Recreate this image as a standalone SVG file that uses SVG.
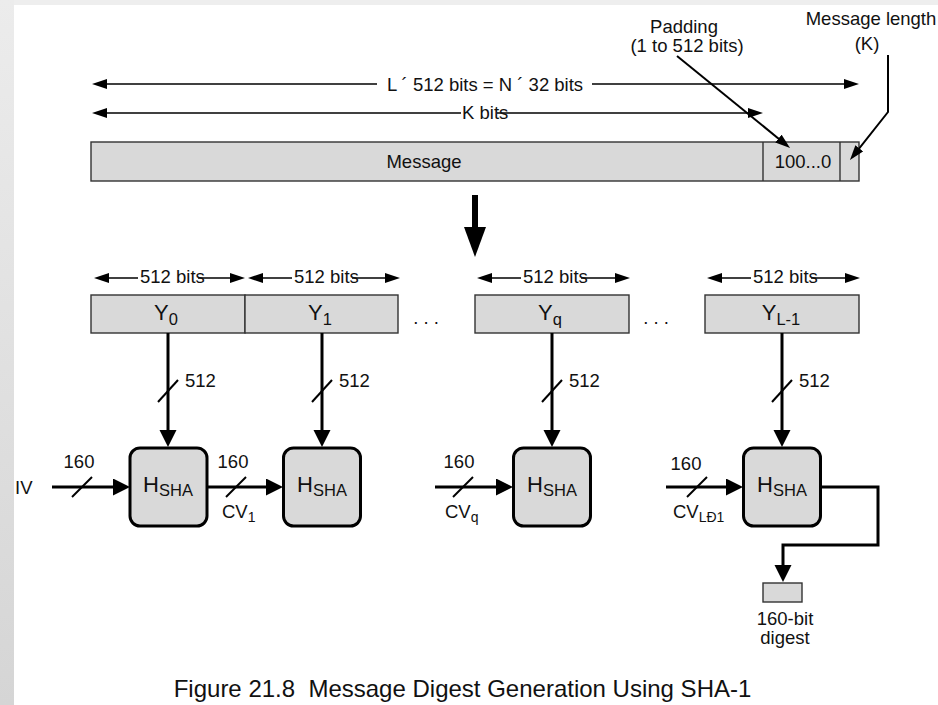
<svg xmlns="http://www.w3.org/2000/svg" width="938" height="705" viewBox="0 0 938 705">
  <style>
    text { font-family: "Liberation Sans", Arial, sans-serif; fill: #111; }
    .lbl { font-size: 18.5px; }
    .mid { text-anchor: middle; }
    .big { font-size: 22px; }
    .sub { font-size: 16.5px; }
    .cap { font-size: 24px; }
    .box { fill: #d9d9d9; stroke: #333; stroke-width: 1.4; }
    .hbox { fill: #d9d9d9; stroke: #000; stroke-width: 3; }
    .dim { fill: none; stroke: #000; stroke-width: 1.4; }
    .ptr { fill: none; stroke: #000; stroke-width: 2; }
    .flow { fill: none; stroke: #000; stroke-width: 3; }
    .tick { fill: none; stroke: #000; stroke-width: 2; }
  </style>
  <defs>
    <linearGradient id="edge" x1="0" y1="0" x2="0" y2="1">
      <stop offset="0" stop-color="#ececec"/>
      <stop offset="1" stop-color="#d5d5d5"/>
    </linearGradient>
    <marker id="thin" markerUnits="userSpaceOnUse" markerWidth="16" markerHeight="10" refX="9" refY="5" orient="auto-start-reverse">
      <path d="M0,0 L15,5 L0,10 z" fill="#000"/>
    </marker>
    <marker id="thick" markerUnits="userSpaceOnUse" markerWidth="18" markerHeight="18" refX="7" refY="8.5" orient="auto">
      <path d="M0,0 L17,8.5 L0,17 z" fill="#000"/>
    </marker>
  </defs>

  <!-- page background with grey frame on the left and top -->
  <rect x="0" y="0" width="938" height="705" fill="#ffffff"/>
  <rect x="0" y="0" width="938" height="5" fill="#eeeeee"/>
  <rect x="0" y="0" width="14" height="705" fill="url(#edge)"/>

  <!-- message layout -->
  <g id="message">
    <rect class="box" x="91" y="142" width="768" height="39"/>
    <line x1="763" y1="142" x2="763" y2="181" stroke="#333" stroke-width="1.4"/>
    <line x1="840" y1="142" x2="840" y2="181" stroke="#333" stroke-width="1.4"/>
    <text class="lbl mid" x="424" y="168">Message</text>
    <text class="lbl mid" x="803" y="168">100...0</text>
  </g>

  <g id="padding-label">
    <text class="lbl mid" x="684" y="33">Padding</text>
    <text class="lbl mid" x="687" y="52">(1 to 512 bits)</text>
  </g>
  <g id="length-label">
    <text class="lbl mid" x="871" y="25">Message length</text>
    <text class="lbl mid" x="867" y="50">(K)</text>
  </g>

  <g id="dimensions">
    <line class="dim" x1="98" y1="84" x2="377" y2="84" marker-start="url(#thin)"/>
    <line class="dim" x1="592" y1="84" x2="853" y2="84" marker-end="url(#thin)"/>
    <text class="lbl mid" x="485" y="91">L ´ 512 bits = N ´ 32 bits</text>
    <line class="dim" x1="98" y1="113" x2="461" y2="113" marker-start="url(#thin)"/>
    <line class="dim" x1="497" y1="113" x2="757" y2="113" marker-end="url(#thin)"/>
    <text class="lbl" x="462" y="119">K bits</text>

    <line class="dim" x1="100" y1="278" x2="138" y2="278" marker-start="url(#thin)"/>
    <line class="dim" x1="198" y1="278" x2="239" y2="278" marker-end="url(#thin)"/>
    <text class="lbl" x="140" y="283">512 bits</text>
    <line class="dim" x1="254" y1="278" x2="292" y2="278" marker-start="url(#thin)"/>
    <line class="dim" x1="352" y1="278" x2="394" y2="278" marker-end="url(#thin)"/>
    <text class="lbl" x="294" y="283">512 bits</text>
    <line class="dim" x1="483" y1="278" x2="521" y2="278" marker-start="url(#thin)"/>
    <line class="dim" x1="581" y1="278" x2="624" y2="278" marker-end="url(#thin)"/>
    <text class="lbl" x="523" y="283">512 bits</text>
    <line class="dim" x1="713" y1="278" x2="751" y2="278" marker-start="url(#thin)"/>
    <line class="dim" x1="811" y1="278" x2="854" y2="278" marker-end="url(#thin)"/>
    <text class="lbl" x="753" y="283">512 bits</text>
  </g>

  <!-- expansion arrow -->
  <g id="expand-arrow">
    <rect x="472" y="195" width="6" height="33" fill="#000"/>
    <polygon points="464,227 486,227 475,257" fill="#000"/>
  </g>

  <!-- 512-bit blocks -->
  <g id="block-y0">
    <rect class="box" x="91" y="295" width="154" height="38"/>
    <text class="big mid" x="166" y="320">Y<tspan class="sub" dy="5">0</tspan></text>
  </g>
  <g id="block-y1">
    <rect class="box" x="245" y="295" width="153" height="38"/>
    <text class="big mid" x="320" y="320">Y<tspan class="sub" dy="5">1</tspan></text>
  </g>
  <text class="lbl mid" x="426" y="324">. . .</text>
  <g id="block-yq">
    <rect class="box" x="475" y="295" width="154" height="38"/>
    <text class="big mid" x="550" y="320">Y<tspan class="sub" dy="5">q</tspan></text>
  </g>
  <text class="lbl mid" x="656" y="324">. . .</text>
  <g id="block-yl1">
    <rect class="box" x="705" y="295" width="154" height="38"/>
    <text class="big mid" x="781" y="320">Y<tspan class="sub" dy="5">L-1</tspan></text>
  </g>

  <!-- compression stages -->
  <g id="hsha-0">
    <rect class="hbox" x="130" y="448" width="77" height="78" rx="10"/>
    <text class="big mid" x="168" y="492">H<tspan class="sub" dy="4">SHA</tspan></text>
  </g>
  <g id="hsha-1">
    <rect class="hbox" x="283.5" y="448" width="77" height="78" rx="10"/>
    <text class="big mid" x="322" y="492">H<tspan class="sub" dy="4">SHA</tspan></text>
  </g>
  <g id="hsha-q">
    <rect class="hbox" x="513.5" y="448" width="77" height="78" rx="10"/>
    <text class="big mid" x="552" y="492">H<tspan class="sub" dy="4">SHA</tspan></text>
  </g>
  <g id="hsha-l1">
    <rect class="hbox" x="743.5" y="448" width="77" height="78" rx="10"/>
    <text class="big mid" x="782" y="492">H<tspan class="sub" dy="4">SHA</tspan></text>
  </g>

  <g id="digest">
    <rect class="box" x="763" y="583" width="39" height="19"/>
    <text class="lbl mid" x="785" y="625">160-bit</text>
    <text class="lbl mid" x="785" y="644">digest</text>
  </g>

  <g id="connectors">
    <!-- padding and length pointers -->
    <line class="ptr" x1="677" y1="56" x2="785.4" y2="144.2" marker-end="url(#thin)"/>
    <polyline class="ptr" points="888,55 888,112 853.7,155.3" marker-end="url(#thin)"/>

    <!-- block inputs -->
    <line class="flow" x1="168" y1="333" x2="168" y2="437" marker-end="url(#thick)"/>
    <line class="flow" x1="322" y1="333" x2="322" y2="437" marker-end="url(#thick)"/>
    <line class="flow" x1="552" y1="333" x2="552" y2="437" marker-end="url(#thick)"/>
    <line class="flow" x1="782" y1="333" x2="782" y2="437" marker-end="url(#thick)"/>
    <line class="tick" x1="158" y1="402" x2="178" y2="380"/>
    <line class="tick" x1="312" y1="402" x2="332" y2="380"/>
    <line class="tick" x1="542" y1="402" x2="562" y2="380"/>
    <line class="tick" x1="772" y1="402" x2="792" y2="380"/>

    <!-- chaining values -->
    <line class="flow" x1="52" y1="487" x2="120" y2="487" marker-end="url(#thick)"/>
    <line class="tick" x1="72" y1="497" x2="92" y2="477"/>
    <line class="flow" x1="207" y1="487" x2="273" y2="487" marker-end="url(#thick)"/>
    <line class="tick" x1="226" y1="497" x2="246" y2="477"/>
    <line class="flow" x1="435" y1="487" x2="503" y2="487" marker-end="url(#thick)"/>
    <line class="tick" x1="453" y1="497" x2="473" y2="477"/>
    <line class="flow" x1="666" y1="487" x2="733" y2="487" marker-end="url(#thick)"/>
    <line class="tick" x1="687" y1="497" x2="707" y2="477"/>

    <!-- final output -->
    <polyline class="flow" points="821,487 878,487 878,545 783,545 783,572" marker-end="url(#thick)"/>
  </g>

  <g id="wire-labels">
    <text class="lbl" x="185" y="387">512</text>
    <text class="lbl" x="339" y="387">512</text>
    <text class="lbl" x="569" y="387">512</text>
    <text class="lbl" x="799" y="387">512</text>

    <text class="lbl" x="15" y="494">IV</text>
    <text class="lbl mid" x="79" y="468">160</text>
    <text class="lbl mid" x="233" y="468">160</text>
    <text class="lbl" x="222" y="518">CV<tspan font-size="14" dy="4">1</tspan></text>
    <text class="lbl mid" x="459" y="468">160</text>
    <text class="lbl" x="445" y="518">CV<tspan font-size="14" dy="4">q</tspan></text>
    <text class="lbl mid" x="686" y="470">160</text>
    <text class="lbl" x="673" y="518">CV<tspan font-size="14" dy="4">LÐ1</tspan></text>
  </g>

  <text class="cap mid" x="462.5" y="697" xml:space="preserve">Figure 21.8  Message Digest Generation Using SHA-1</text>
</svg>
